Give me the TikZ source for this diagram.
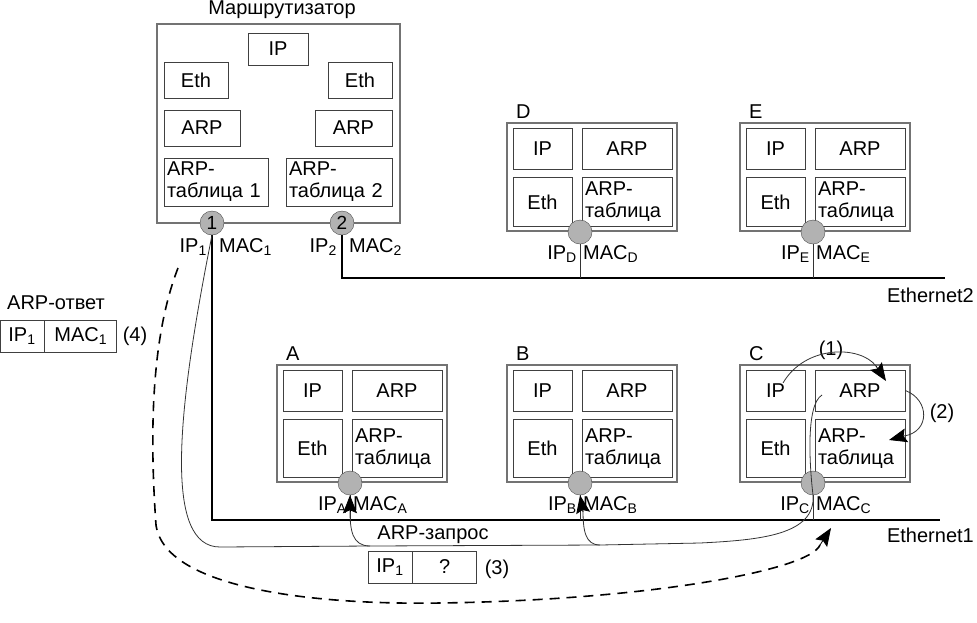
\documentclass[tikz,border=0pt]{standalone}
\usepackage{fontspec}
\setmainfont{Liberation Sans}
\usetikzlibrary{arrows.meta}
\newcommand\sub[1]{\textsubscript{#1}}
\begin{document}
\begin{tikzpicture}[x=1pt,y=-1pt,
  box/.style={draw=black!75,line width=0.8pt,inner sep=2pt,font=\fontsize{20}{22}\selectfont},
  outer/.style={draw=black!55,line width=1.6pt},
  port/.style={circle,draw=black!70,fill=black!30,minimum size=24pt,inner sep=0pt,font=\fontsize{19}{20}\selectfont},
  lbl/.style={font=\fontsize{20}{22}\selectfont,inner sep=1pt},
  net/.style={line width=1.5pt},
  thin/.style={line width=0.8pt,black!80},
  arr/.style={-{Stealth[length=18pt,width=14pt,inset=3pt]},black,line width=0.8pt}]
\useasboundingbox (0,0) rectangle (977,622);
% router
\draw[outer] (157,24) rectangle (400,223);
\node[lbl] (rt) at (282,10) {Маршрутизатор};
\node[box,minimum width=60pt,minimum height=32pt] (rip) at (278,49) {IP};
\node[box,minimum width=64pt,minimum height=36pt] (reth1) at (196,80) {Eth};
\node[box,minimum width=64pt,minimum height=36pt] (reth2) at (360,80) {Eth};
\node[box,minimum width=76pt,minimum height=36pt] (rarp1) at (202,128) {ARP};
\node[box,minimum width=77pt,minimum height=36pt] (rarp2) at (353.5,128) {ARP};
\node[box,minimum width=104pt,minimum height=48pt,align=left,text width=98pt] (rt1) at (216,182) {ARP-\\таблица 1};
\node[box,minimum width=106pt,minimum height=48pt,align=left,text width=100pt] (rt2) at (339,182) {ARP-\\таблица 2};
\node[port] (p1) at (212,223) {1};
\node[port] (p2) at (342,223) {2};
\node[lbl,anchor=east] (ip1) at (208,247) {IP\sub{1}};
\node[lbl,anchor=west] (mac1) at (218,247) {MAC\sub{1}};
\node[lbl,anchor=east] (ip2) at (338,247) {IP\sub{2}};
\node[lbl,anchor=west] (mac2) at (348,247) {MAC\sub{2}};
% networks
\coordinate (e1l) at (212,520); \coordinate (e1r) at (940,520);
\coordinate (e2c) at (342,278); \coordinate (e2r) at (945,278);
\draw[net] (p1.south) -- (e1l) -- (e1r);
\draw[net] (p2.south) -- (e2c) -- (e2r);
\node[lbl,anchor=north east] (eth1) at (975,527) {Ethernet1};
\node[lbl,anchor=north east] (eth2) at (975,287) {Ethernet2};
% hosts: name, left, top, bottom, net y
\newcommand\myhost[5]{%
  \draw[outer] (#2,#3) rectangle (#2+170,#4);
  \node[lbl,anchor=south west] (#1lab) at (#2+8,#3-3) {#1};
  \node[box,minimum width=59pt,minimum height=41pt] (#1ip) at (#2+35.5,#3+25.5) {IP};
  \node[box,minimum width=90pt,minimum height=41pt] (#1arp) at (#2+120,#3+25.5) {ARP};
  \node[box,minimum width=59pt,minimum height=#4-#3-59,anchor=north] (#1eth) at (#2+35.5,#3+54) {Eth};
  \node[box,minimum width=90pt,minimum height=#4-#3-59,anchor=north,align=left,text width=84pt] (#1tab) at (#2+120,#3+54) {ARP-\\таблица};
  \node[port] (#1p) at (#2+73,#4+1) {};
  \coordinate (#1n) at (#2+73,#5);
  \draw[thin] (#1p.south) -- (#1n);
  \node[lbl,anchor=east] (#1ipl) at (#2+71,#4+23) {IP\sub{#1}};
  \node[lbl,anchor=west] (#1macl) at (#2+75,#4+23) {MAC\sub{#1}};
}
\myhost{D}{507}{123}{231}{278}
\myhost{E}{740}{123}{231}{278}
\myhost{A}{277}{365}{482}{520}
\myhost{B}{507}{365}{482}{520}
\myhost{C}{740}{365}{482}{520}
% ARP answer
\node[lbl] (ans) at (56,303) {ARP-ответ};
\node[box,minimum width=44pt,minimum height=32pt] (a1) at (22,336) {IP\sub{1}};
\node[box,minimum width=72pt,minimum height=32pt,anchor=west] (a2) at (a1.east) {MAC\sub{1}};
\node[lbl] (n4) at (135,336) {(4)};
% ARP request
\node[lbl] (req) at (433,535) {ARP-запрос};
\node[box,minimum width=44pt,minimum height=32pt] (q1) at (390,567) {IP\sub{1}};
\node[box,minimum width=64pt,minimum height=32pt,anchor=west] (q2) at (q1.east) {?};
\node[lbl] (n3) at (497,569) {(3)};
% curves (1) (2)
\node[lbl] (n1) at (831,350) {(1)};
\node[lbl] (n2) at (942,413) {(2)};
\draw[thin] (783,383) .. controls (805,345) and (860,345) .. (876,366);
\draw[arr] (876,366) -- (886,381);
\draw[thin] (Carp.east) .. controls (930,400) and (930,432) .. (904,436);
\draw[arr] (904,436) -- (889,440);
% request path
\coordinate (cs) at (822,395);
\coordinate (jb) at (600,545);
\coordinate (ja) at (370,546);
\draw[thin] (cs) .. controls (805,405) and (810,470) .. (813,495)
  .. controls (816,535) and (760,540) .. (700,543) -- (jb) -- (ja)
  -- (220,547) .. controls (165,547) and (175,420) .. (p1.south);
\draw[thin] (jb) .. controls (585,545) and (583,530) .. (583,510);
\draw[arr] (583,512) -- (Bp.south);
\draw[thin] (ja) .. controls (352,546) and (350,530) .. (350,510);
\draw[arr] (350,512) -- (Ap.south);
% dashed answer
\coordinate (ds) at (178,268);
\draw[line width=1.6pt,dash pattern=on 10pt off 7pt] (ds) .. controls (150,340) and (150,440) .. (156,525)
  .. controls (165,590) and (320,605) .. (440,603) .. controls (650,600) and (810,570) .. (820,545);
\draw[arr] (820,545) -- (831,528);
\end{tikzpicture}
\end{document}
